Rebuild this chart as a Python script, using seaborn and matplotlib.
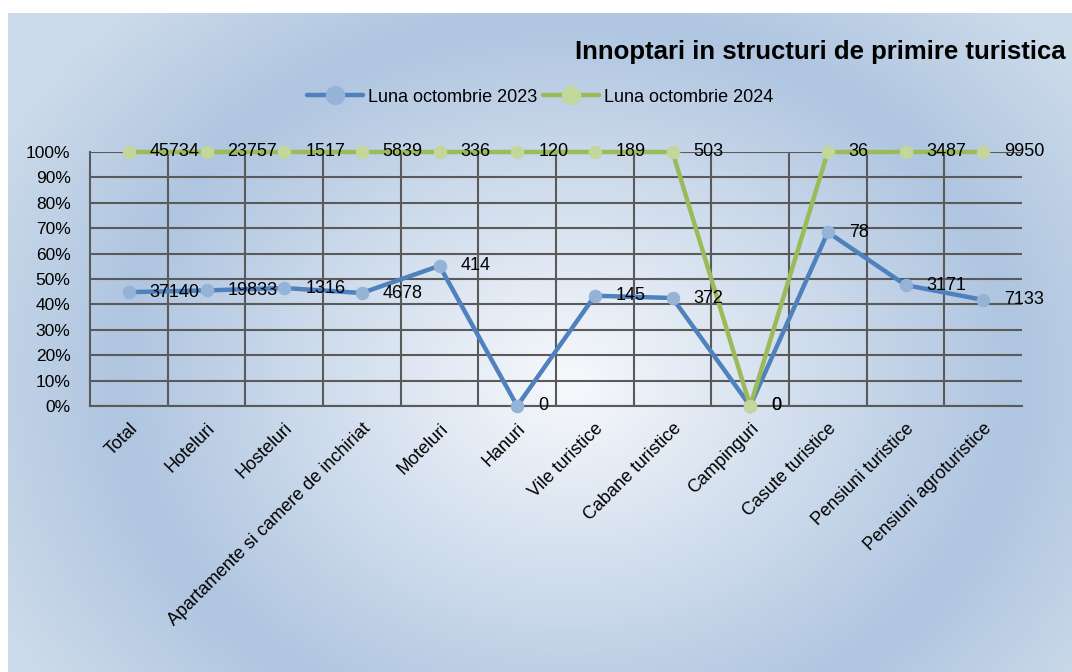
import numpy as np
import pandas as pd
import seaborn as sns
import matplotlib.pyplot as plt
from matplotlib.colors import LinearSegmentedColormap
from matplotlib.lines import Line2D

categories = ['Total', 'Hoteluri', 'Hosteluri', 'Apartamente si camere de inchiriat',
              'Moteluri', 'Hanuri', 'Vile turistice', 'Cabane turistice', 'Campinguri',
              'Casute turistice', 'Pensiuni turistice', 'Pensiuni agroturistice']
oct_2023 = [37140, 19833, 1316, 4678, 414, 0, 145, 372, 0, 78, 3171, 7133]
oct_2024 = [45734, 23757, 1517, 5839, 336, 120, 189, 503, 0, 36, 3487, 9950]
series_names = ['Luna octombrie 2023', 'Luna octombrie 2024']

# 100% stacked line chart: each series shown as cumulative share of the total
v23 = np.array(oct_2023, dtype=float)
v24 = np.array(oct_2024, dtype=float)
tot = v23 + v24
safe = np.where(tot > 0, tot, 1)
df = pd.DataFrame({
    'x': list(range(len(categories))) * 2,
    'pct': list(np.where(tot > 0, v23 / safe, 0)) + list(np.where(tot > 0, tot / safe, 0)),
    'value': oct_2023 + oct_2024,
    'serie': [series_names[0]] * len(categories) + [series_names[1]] * len(categories),
})

line_col = {series_names[0]: '#4F81BD', series_names[1]: '#9BBB59'}
mark_col = {series_names[0]: '#95B3D7', series_names[1]: '#C3D69B'}

sns.set_style('white')
plt.rcParams['font.family'] = ['Liberation Sans', 'DejaVu Sans']
plt.rcParams['text.color'] = 'black'
plt.rcParams['xtick.color'] = 'black'
plt.rcParams['ytick.color'] = 'black'

fig = plt.figure(figsize=(10.72, 6.72), dpi=100)

# radial gradient background panel
bg = fig.add_axes([8 / 1072, 0, 1 - 8 / 1072, 1 - 13 / 672], zorder=-10)
yy, xx = np.mgrid[0:660, 0:1064]
r = np.sqrt(((xx - 560) / 640) ** 2 + ((yy - 370) / 520) ** 2)
cmap = LinearSegmentedColormap.from_list('bg', [(0, '#F7F9FC'), (0.7, '#AFC5E0'), (1.0, '#CCDBEA')])
bg.imshow(np.clip(r, 0, 1), cmap=cmap, vmin=0, vmax=1, aspect='auto')
bg.axis('off')

ax = fig.add_axes([90 / 1072, 1 - 406 / 672, (1022 - 90) / 1072, (406 - 152) / 672])
ax.patch.set_alpha(0)

for name in series_names:
    d = df[df['serie'] == name]
    sns.lineplot(data=d, x='x', y='pct', ax=ax, color=line_col[name], lw=3.2,
                 marker='o', markersize=9, markerfacecolor=mark_col[name],
                 markeredgecolor=mark_col[name], sort=False, zorder=3, clip_on=False)
    for _, row in d.iterrows():
        ax.text(row['x'] + 0.27, row['pct'], f"{row['value']}", fontsize=13,
                va='center', ha='left', zorder=5, color='black')

ax.set_xlim(-0.5, len(categories) - 0.5)
ax.set_ylim(0, 1)
ax.set_yticks(np.arange(0, 1.01, 0.1))
ax.set_yticklabels([f'{int(round(t * 100))}%' for t in np.arange(0, 1.01, 0.1)], fontsize=12.5)
ax.set_xticks(range(len(categories)))
ax.set_xticklabels(categories, rotation=45, ha='right', rotation_mode='anchor', fontsize=13)
ax.set_xticks(np.arange(0.5, len(categories) - 0.5, 1), minor=True)
ax.tick_params(axis='y', which='both', length=0, pad=14)
ax.tick_params(axis='x', which='both', length=0, pad=10)
ax.grid(True, axis='y', which='major', color='#5A5A5A', lw=1.5)
ax.grid(True, axis='x', which='minor', color='#5A5A5A', lw=1.5)
ax.set_axisbelow(True)
for s in ['top', 'right']:
    ax.spines[s].set_visible(False)
for s in ['left', 'bottom']:
    ax.spines[s].set_color('#5A5A5A')
    ax.spines[s].set_linewidth(1.5)
ax.set_xlabel('')
ax.set_ylabel('')
if ax.get_legend():
    ax.get_legend().remove()

fig.text(1066 / 1072, 1 - 52 / 672, 'Innoptari in structuri de primire turistica',
         ha='right', va='center', fontsize=18.5, fontweight='bold')

handles = [Line2D([], [], color=line_col[n], lw=3.2, marker='o', markersize=13,
                  markerfacecolor=mark_col[n], markeredgecolor=mark_col[n]) for n in series_names]
fig.legend(handles, series_names, loc='center', bbox_to_anchor=(540 / 1072, 1 - 97 / 672),
           ncol=2, frameon=False, fontsize=13, handlelength=3.1, handletextpad=0.3,
           columnspacing=0.3)

fig.savefig('out.png', dpi=100)
